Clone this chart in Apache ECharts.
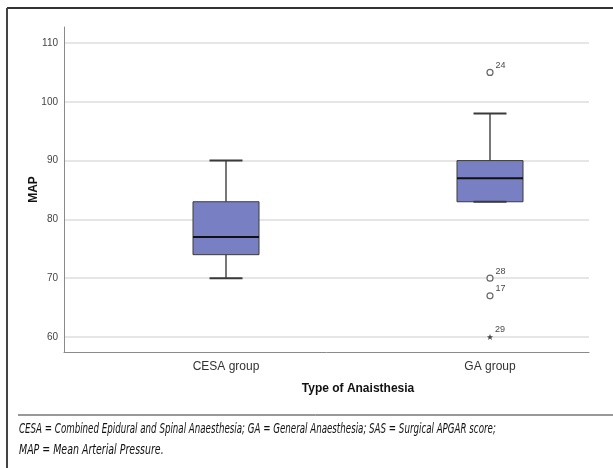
<!DOCTYPE html>
<html>
<head>
<meta charset="utf-8">
<script src="https://cdn.jsdelivr.net/npm/echarts@6/dist/echarts.min.js"></script>
<style>
html,body{margin:0;padding:0;background:#fff;}
#chart{width:613px;height:468px;}
</style>
</head>
<body>
<div id="chart"></div>
<script>
// ---- data ----
const categories = ['CESA group', 'GA group'];
const whiskerLow = [70, 83];
const quartile1 = [74, 83];
const medians = [77, 87];
const quartile3 = [83, 90];
const whiskerHigh = [90, 98];
const outlierCategory = ['GA group', 'GA group', 'GA group'];
const outlierValues = [105, 70, 67];
const outlierIds = ['24', '28', '17'];
const extremeCategory = ['GA group'];
const extremeValues = [60];
const extremeIds = ['29'];
const yTicks = { min: 60, max: 110, step: 10 };

const boxData = categories.map((c, i) => [i, whiskerLow[i], quartile1[i], medians[i], quartile3[i], whiskerHigh[i]]);
const outlierData = outlierValues.map((v, i) => ({ value: [outlierCategory[i], v], id: outlierIds[i] }));
const extremeData = extremeValues.map((v, i) => ({ value: [extremeCategory[i], v], id: extremeIds[i] }));

function renderBox(params, api) {
  const x = api.value(0);
  const lo = api.coord([x, api.value(1)]);
  const q1 = api.coord([x, api.value(2)]);
  const md = api.coord([x, api.value(3)]);
  const q3 = api.coord([x, api.value(4)]);
  const hi = api.coord([x, api.value(5)]);
  const band = api.size([1, 0])[0];
  const bw = band * 0.25;
  const cw = bw / 2;
  const cx = md[0];
  const wStyle = { stroke: '#4a4a4a', lineWidth: 1.5 };
  const capStyle = { stroke: '#3a3a3a', lineWidth: 2 };
  return {
    type: 'group',
    children: [
      { type: 'line', shape: { x1: cx, y1: q3[1], x2: cx, y2: hi[1] }, style: wStyle },
      { type: 'line', shape: { x1: cx, y1: q1[1], x2: cx, y2: lo[1] }, style: wStyle },
      { type: 'rect', shape: { x: cx - bw / 2, y: q3[1], width: bw, height: q1[1] - q3[1] },
        style: { fill: '#7880c3', stroke: '#3a3a3a', lineWidth: 1 } },
      { type: 'line', shape: { x1: cx - bw / 2, y1: md[1], x2: cx + bw / 2, y2: md[1] },
        style: { stroke: '#111', lineWidth: 2 } },
      { type: 'line', shape: { x1: cx - cw / 2, y1: hi[1], x2: cx + cw / 2, y2: hi[1] }, style: capStyle },
      { type: 'line', shape: { x1: cx - cw / 2, y1: lo[1], x2: cx + cw / 2, y2: lo[1] }, style: capStyle }
    ]
  };
}

const chart = echarts.init(document.getElementById('chart'), null, { renderer: 'canvas' });
const font = 'Liberation Sans, Arial, sans-serif';
const noteFont = 'DejaVu Sans Condensed, sans-serif';

chart.setOption({
  animation: false,
  backgroundColor: '#fff',
  grid: [
    { left: 64, right: 24, top: 43, bottom: 131 },   // gridlines + tick labels
    { left: 64, right: 24, top: 27, bottom: 116 },   // axis lines
    { left: 226, width: 264, top: 43, bottom: 131 }  // boxes (category centres)
  ],
  xAxis: [
    { gridIndex: 0, type: 'value', show: false, min: 0, max: 1 },
    { gridIndex: 1, type: 'value', min: 0, max: 1,
      axisLine: { show: true, lineStyle: { color: '#8a8a8a', width: 1 } },
      axisTick: { show: false }, axisLabel: { show: false }, splitLine: { show: false } },
    { gridIndex: 2, type: 'category', data: categories, offset: 15, boundaryGap: false,
      axisLine: { show: false }, axisTick: { show: false }, splitLine: { show: false },
      axisLabel: { margin: 9, color: '#333', fontSize: 12, fontFamily: font },
      name: 'Type of Anaisthesia', nameLocation: 'middle', nameGap: 31,
      nameTextStyle: { fontWeight: 'bold', fontSize: 12, color: '#111', fontFamily: font } }
  ],
  yAxis: [
    { gridIndex: 0, type: 'value', min: yTicks.min, max: yTicks.max, interval: yTicks.step,
      axisLine: { show: false }, axisTick: { show: false },
      axisLabel: { margin: 6, color: '#444', fontSize: 10, fontFamily: font },
      splitLine: { show: true, lineStyle: { color: '#dedede', width: 1.5 } } },
    { gridIndex: 1, type: 'value', min: 0, max: 1,
      axisLine: { show: true, lineStyle: { color: '#8a8a8a', width: 1 } },
      axisTick: { show: false }, axisLabel: { show: false }, splitLine: { show: false },
      name: 'MAP', nameLocation: 'middle', nameGap: 24, nameRotate: 90,
      nameTextStyle: { fontWeight: 'bold', fontSize: 12, color: '#111', fontFamily: font } },
    { gridIndex: 2, type: 'value', min: yTicks.min, max: yTicks.max, show: false }
  ],
  series: [
    { type: 'custom', xAxisIndex: 2, yAxisIndex: 2, renderItem: renderBox, data: boxData,
      encode: { x: 0, y: [1, 2, 3, 4, 5] }, clip: false, z: 3 },
    { type: 'scatter', xAxisIndex: 2, yAxisIndex: 2, data: outlierData, symbol: 'circle', symbolSize: 6,
      itemStyle: { color: '#fff', borderColor: '#444', borderWidth: 1.2 },
      label: { show: true, position: 'right', distance: 1, offset: [1, -7], formatter: p => p.data.id,
        fontSize: 9, color: '#111', fontFamily: font }, z: 4 },
    { type: 'scatter', xAxisIndex: 2, yAxisIndex: 2, data: extremeData, symbol: 'path://M0,-1 L0.3,-0.3 L1,-0.3 L0.45,0.15 L0.65,0.9 L0,0.45 L-0.65,0.9 L-0.45,0.15 L-1,-0.3 L-0.3,-0.3 Z',
      symbolSize: 6, itemStyle: { color: '#222' },
      label: { show: true, position: 'right', distance: 1, offset: [1, -7], formatter: p => p.data.id,
        fontSize: 9, color: '#111', fontFamily: font }, z: 4 }
  ],
  graphic: [
    { type: 'line', shape: { x1: 7, y1: 8, x2: 613, y2: 8 }, style: { stroke: '#333', lineWidth: 2 } },
    { type: 'line', shape: { x1: 7, y1: 8, x2: 7, y2: 468 }, style: { stroke: '#444', lineWidth: 2 } },
    { type: 'line', shape: { x1: 18, y1: 415, x2: 613, y2: 415 }, style: { stroke: '#333', lineWidth: 1 } },
    { type: 'text', x: 19, y: 422, scaleX: 0.69,
      style: { text: 'CESA = Combined Epidural and Spinal Anaesthesia; GA = General Anaesthesia; SAS = Surgical APGAR score;',
        fontFamily: noteFont, fontStyle: 'italic', fontSize: 14, fill: '#111' } },
    { type: 'text', x: 19, y: 443, scaleX: 0.75,
      style: { text: 'MAP = Mean Arterial Pressure.',
        fontFamily: noteFont, fontStyle: 'italic', fontSize: 14, fill: '#111' } }
  ]
});
</script>
</body>
</html>
